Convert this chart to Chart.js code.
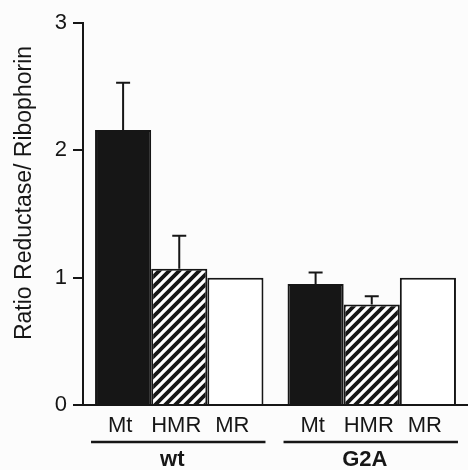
<!DOCTYPE html>
<html>
<head>
<meta charset="utf-8">
<script src="https://cdn.jsdelivr.net/npm/chart.js@4/dist/chart.umd.min.js"></script>
<style>
  html, body { margin: 0; padding: 0; background: #fcfcfc; }
  #wrap { width: 468px; height: 470px; }
</style>
</head>
<body>
<div id="wrap"><canvas id="grafica" width="468" height="470"></canvas></div>
<script>
// datos
const grupos = ['wt', 'G2A'];
const subEtiquetas = ['Mt', 'HMR', 'MR'];
const valoresMt = [2.16, 0.95];
const valoresHMR = [1.07, 0.79];
const valoresMR = [1.0, 1.0];
const errorMt = [0.37, 0.09];
const errorHMR = [0.26, 0.065];
const errorMR = [0, 0];
const ticksY = [0, 1, 2, 3];

const tinta = '#161616';
const fuente = '"Liberation Sans", Arial, Helvetica, sans-serif';

// rayado diagonal para HMR
function crearRayado() {
    const c = document.createElement('canvas');
    c.width = 10; c.height = 10;
    const g = c.getContext('2d');
    g.fillStyle = '#ffffff';
    g.fillRect(0, 0, 10, 10);
    g.strokeStyle = tinta;
    g.lineWidth = 3.8;
    g.beginPath();
    g.moveTo(-5, 5); g.lineTo(5, -5);
    g.moveTo(0, 10); g.lineTo(10, 0);
    g.moveTo(5, 15); g.lineTo(15, 5);
    g.stroke();
    return g.createPattern(c, 'repeat');
}

const fondo = {
    id: 'fondo',
    beforeDraw(chart) {
        const ctx = chart.ctx;
        ctx.save();
        ctx.fillStyle = '#fcfcfc';
        ctx.fillRect(0, 0, chart.width, chart.height);
        ctx.restore();
    }
};

const barrasError = {
    id: 'barrasError',
    afterDatasetsDraw(chart) {
        const ctx = chart.ctx;
        const y = chart.scales.y;
        const errores = [errorMt, errorHMR, errorMR];
        ctx.save();
        ctx.strokeStyle = tinta;
        ctx.lineWidth = 2;
        chart.data.datasets.forEach((ds, i) => {
            chart.getDatasetMeta(i).data.forEach((bar, j) => {
                const e = errores[i][j];
                if (!e) return;
                const yTop = y.getPixelForValue(ds.data[j] + e);
                ctx.beginPath();
                ctx.moveTo(bar.x, bar.y);
                ctx.lineTo(bar.x, yTop);
                ctx.moveTo(bar.x - 7, yTop);
                ctx.lineTo(bar.x + 7, yTop);
                ctx.stroke();
            });
        });
        ctx.restore();
    }
};

const rotulos = {
    id: 'rotulos',
    afterDraw(chart) {
        const ctx = chart.ctx;
        const metas = chart.data.datasets.map((d, i) => chart.getDatasetMeta(i));
        ctx.save();
        ctx.fillStyle = tinta;
        ctx.strokeStyle = tinta;
        ctx.textAlign = 'center';
        ctx.textBaseline = 'middle';

        // etiquetas bajo cada barra
        ctx.font = '22px ' + fuente;
        metas.forEach((meta, i) => {
            meta.data.forEach(bar => ctx.fillText(subEtiquetas[i], bar.x - 3, 426));
        });

        // linea y nombre de grupo
        grupos.forEach((g, j) => {
            const first = metas[0].data[j];
            const last = metas[metas.length - 1].data[j];
            const x0 = first.x - first.width / 2 - 4;
            const x1 = last.x + last.width / 2 + 2;
            ctx.lineWidth = 2.5;
            ctx.beginPath();
            ctx.moveTo(x0, 442);
            ctx.lineTo(x1, 442);
            ctx.stroke();
            ctx.font = 'bold 22px ' + fuente;
            ctx.fillText(g, (x0 + x1) / 2 - 6, 460);
        });

        // titulo eje y
        ctx.translate(25, 193);
        ctx.rotate(-Math.PI / 2);
        ctx.font = '23px ' + fuente;
        ctx.fillText('Ratio Reductase/ Ribophorin', 0, 0);
        ctx.restore();
    }
};

new Chart(document.getElementById('grafica'), {
    type: 'bar',
    data: {
        labels: grupos,
        datasets: [
            { label: 'Mt', data: valoresMt, backgroundColor: tinta, borderColor: tinta, borderWidth: 2 },
            { label: 'HMR', data: valoresHMR, backgroundColor: crearRayado(), borderColor: tinta, borderWidth: 2 },
            { label: 'MR', data: valoresMR, backgroundColor: '#ffffff', borderColor: tinta, borderWidth: 2 }
        ]
    },
    options: {
        responsive: false,
        animation: false,
        devicePixelRatio: 1,
        layout: { padding: { top: 23, right: -3, bottom: 65, left: 0 } },
        datasets: { bar: { categoryPercentage: 0.875, barPercentage: 1.0 } },
        plugins: { legend: { display: false }, tooltip: { enabled: false } },
        scales: {
            x: {
                ticks: { display: false },
                grid: { display: false },
                border: { display: true, color: tinta, width: 2 },
                afterFit: s => { s.height = 0; }
            },
            y: {
                min: ticksY[0],
                max: ticksY[ticksY.length - 1],
                afterBuildTicks: s => { s.ticks = ticksY.map(v => ({ value: v })); },
                ticks: { color: tinta, font: { family: fuente, size: 22 }, padding: 6 },
                grid: { display: true, drawOnChartArea: false, drawTicks: true, tickLength: 10, color: tinta, lineWidth: 2 },
                border: { display: true, color: tinta, width: 2 },
                afterFit: s => { s.width = 83; }
            }
        }
    },
    plugins: [fondo, barrasError, rotulos]
});
</script>
</body>
</html>
